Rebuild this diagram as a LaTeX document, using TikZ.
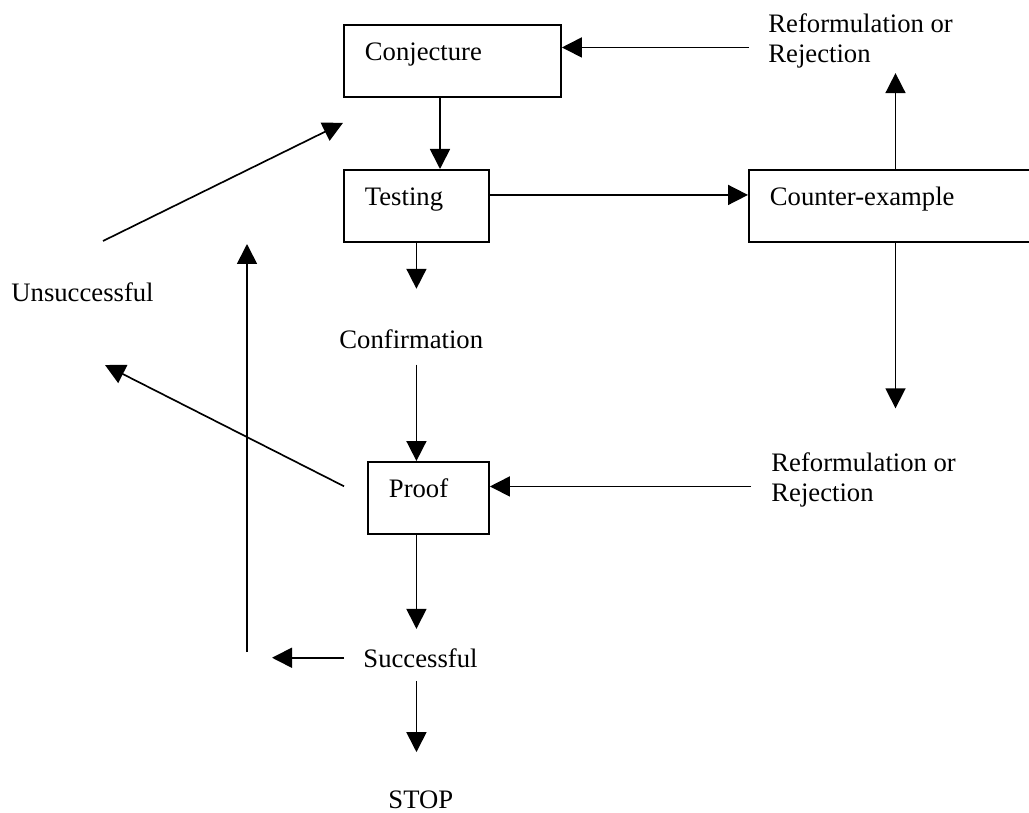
\documentclass[tikz,border=0pt]{standalone}
\usepackage{fontspec}
\setmainfont{Liberation Serif}
\usepackage{tikz}
\usetikzlibrary{arrows.meta}

\begin{document}
\begin{tikzpicture}[x=0.45pt,y=-0.45pt,
	every node/.style={font=\fontsize{12}{13.5}\selectfont},
	box/.style={draw=black,line width=0.85pt,rectangle,anchor=north west,align=left,
		inner xsep=9.45pt,inner ysep=0pt,text height=16.2pt,text depth=16.2pt},
	lbl/.style={inner sep=0pt,anchor=base west,align=left},
	arr/.style={-{Triangle[length=9pt,width=9pt]},line width=0.75pt}]
		\clip (0,0) rectangle (1029,813);

		%boxes
		\node[box,text width=78.75pt] (conj) at (343,24) {Conjecture};
		\node[box,text width=46.35pt] (test) at (343,169) {Testing};
		\node[box,text width=109.8pt] (cex) at (748,169) {Counter-example};
		\node[box,text width=35.55pt] (proof) at (367,461) {Proof};

		%labels (base = last line)
		\node[lbl] (reftop) at (768,63) {Reformulation or\\Rejection};
		\node[lbl] (refbot) at (771,502) {Reformulation or\\Rejection};
		\node[lbl] (confirm) at (339,348) {Confirmation};
		\node[lbl] (unsucc) at (11,302) {Unsuccessful};
		\node[lbl] (succ) at (363,667) {Successful};
		\node[lbl] (stop) at (388,808) {STOP};

		%loose ends
		\coordinate (loopbot) at (247,652);
		\coordinate (looptop) at (247,244);
		\coordinate (unsuccup) at (103,241);
		\coordinate (unsucctip) at (105,365);

		%main column
		\draw[arr] ([xshift=-5.6pt]conj.south) -- ([xshift=10.6pt]test.north);
		\draw[arr,shorten >=18pt] (test.south) -- (test.south |- confirm.north);
		\draw[arr,shorten <=7.2pt] (confirm.south -| test.south) -- (test.south |- proof.north);
		\draw[arr,shorten >=8.5pt] (proof.south -| test.south) -- (test.south |- succ.north);
		\draw[arr,shorten <=5.9pt,shorten >=17pt] (succ.south -| test.south) -- (test.south |- stop.north);

		%counter-example side
		\draw[arr] ([yshift=4.95pt]test.east) -- ([yshift=4.95pt]cex.west);
		\draw[arr,shorten >=1.8pt] ([xshift=1.6pt]cex.north) -- ([xshift=1.6pt]cex.north |- reftop.south);
		\draw[arr,shorten <=8.5pt] ([yshift=-2.7pt]reftop.west) -- ([yshift=-2.7pt]reftop.west -| conj.east);
		\draw[arr,shorten >=20pt] ([xshift=1.6pt]cex.south) -- ([xshift=1.6pt]cex.south |- refbot.north);
		\draw[arr,shorten <=9pt] ([yshift=-2.7pt]refbot.west) -- ([yshift=-2.7pt]refbot.west -| proof.east);

		%loop back
		\draw[arr,shorten <=11.6pt] (proof.west) -- (unsucctip);
		\draw[arr] (unsuccup) -- ([yshift=-11.25pt]conj.south west);
		\draw[arr,shorten <=8.5pt,shorten >=11.25pt] (succ.west) -- (succ.west -| loopbot);
		\draw[arr] (loopbot) -- (looptop);
	\end{tikzpicture}
\end{document}
